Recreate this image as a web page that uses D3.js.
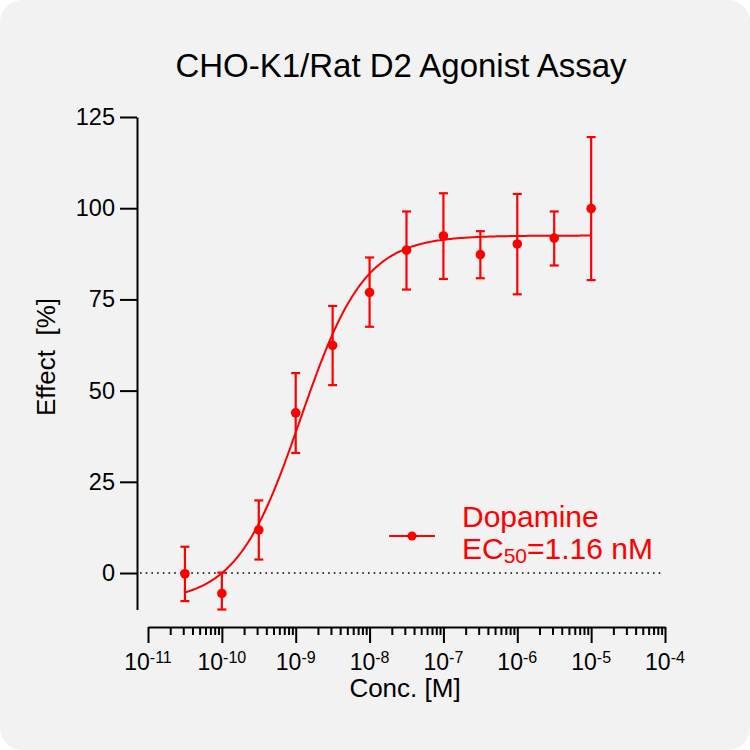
<!DOCTYPE html>
<html>
<head>
<meta charset="utf-8">
<script src="https://cdn.jsdelivr.net/npm/d3@7"></script>
<style>
  body { margin: 0; background: #ffffff; }
  svg text { font-family: "Liberation Sans", Arial, sans-serif; }
</style>
</head>
<body>
<div id="container"></div>
<script>
// data
var logConc = [-10.5, -10, -9.5, -9, -8.5, -8, -7.5, -7, -6.5, -6, -5.5, -5];
var effect = [-0.2, -5.6, 11.8, 43.9, 62.4, 76.9, 88.5, 92.4, 87.3, 90.2, 91.8, 99.9];
var errLow = [-7.7, -10, 3.7, 32.9, 51.5, 67.5, 77.7, 80.6, 80.8, 76.4, 84.3, 80.3];
var errHigh = [7.2, 0.1, 19.9, 54.8, 73.2, 86.5, 99.1, 104.1, 93.7, 103.9, 99.1, 119.5];
var yTicks = [0, 25, 50, 75, 100, 125];
var xDecades = [-11, -10, -9, -8, -7, -6, -5, -4];

// fitted curve parameters
var fitBottom = -8, fitTop = 92.5, fitHill = 1.0, ec50 = 1.16e-9;

var width = 750, height = 750;
var red = '#ff0000';

var svg = d3.select('#container')
    .append('svg')
    .attr('width', width)
    .attr('height', height);

svg.append('rect')
    .attr('width', width)
    .attr('height', height)
    .attr('rx', 22)
    .attr('fill', '#f2f2f2');

var x = d3.scaleLog()
    .domain([1e-11, 1e-4])
    .range([148, 665]);

var y = d3.scaleLinear()
    .domain([-10, 125])
    .range([609.5, 117]);

// title
svg.append('text')
    .attr('x', 401)
    .attr('y', 77)
    .attr('text-anchor', 'middle')
    .style('font-size', '33px')
    .text('CHO-K1/Rat D2 Agonist Assay');

// y axis
var yAxis = svg.append('g')
    .attr('transform', 'translate(137,0)')
    .call(d3.axisLeft(y).tickValues(yTicks).tickSize(17).tickSizeOuter(0).tickPadding(5));
yAxis.selectAll('path, line').attr('stroke', '#000').attr('stroke-width', 2);
yAxis.selectAll('text').style('font-size', '23.5px').attr('fill', '#000');

svg.append('text')
    .attr('transform', 'translate(55,357) rotate(-90)')
    .attr('text-anchor', 'middle')
    .style('font-size', '26px')
    .style('white-space', 'pre')
    .text('Effect  [%]');

// x axis
var majors = xDecades.map(function(d) { return Math.pow(10, d); });
var minors = [];
xDecades.slice(0, -1).forEach(function(d) {
    for (var k = 2; k <= 9; k++) minors.push(k * Math.pow(10, d));
});

var xAxis = svg.append('g')
    .attr('transform', 'translate(0,627)')
    .call(d3.axisBottom(x).tickValues(majors).tickSize(16).tickSizeOuter(0).tickFormat(''));
xAxis.selectAll('path, line').attr('stroke', '#000').attr('stroke-width', 2);

var xMinor = svg.append('g')
    .attr('transform', 'translate(0,627)')
    .call(d3.axisBottom(x).tickValues(minors).tickSize(8).tickFormat(''));
xMinor.select('.domain').remove();
xMinor.selectAll('line').attr('stroke', '#000').attr('stroke-width', 2);

var xLabels = svg.append('g')
    .selectAll('text')
    .data(xDecades)
    .enter()
    .append('text')
    .attr('x', function(d) { return x(Math.pow(10, d)); })
    .attr('y', 670)
    .attr('text-anchor', 'middle')
    .style('font-size', '23px');
xLabels.append('tspan').text('10');
xLabels.append('tspan')
    .attr('dy', -7)
    .style('font-size', '16px')
    .text(function(d) { return String(d); });

svg.append('text')
    .attr('x', 405)
    .attr('y', 697)
    .attr('text-anchor', 'middle')
    .style('font-size', '26px')
    .text('Conc. [M]');

// zero line
svg.append('line')
    .attr('x1', 140)
    .attr('x2', 664)
    .attr('y1', y(0))
    .attr('y2', y(0))
    .attr('stroke', '#000')
    .attr('stroke-width', 1.6)
    .attr('stroke-dasharray', '1.6 4.1');

// fitted curve
var curveX = d3.range(logConc[0], logConc[logConc.length - 1] + 0.001, 0.02);
var curve = d3.line()
    .x(function(d) { return x(Math.pow(10, d)); })
    .y(function(d) {
        var c = Math.pow(10, d);
        return y(fitBottom + (fitTop - fitBottom) / (1 + Math.pow(ec50 / c, fitHill)));
    });

svg.append('path')
    .datum(curveX)
    .attr('d', curve)
    .attr('fill', 'none')
    .attr('stroke', red)
    .attr('stroke-width', 2);

// error bars and points
var pts = svg.append('g')
    .selectAll('g')
    .data(logConc)
    .enter()
    .append('g')
    .attr('transform', function(d) { return 'translate(' + x(Math.pow(10, d)) + ',0)'; });

pts.append('line')
    .attr('y1', function(d, i) { return y(errLow[i]); })
    .attr('y2', function(d, i) { return y(errHigh[i]); })
    .attr('stroke', red)
    .attr('stroke-width', 2.2);
pts.append('line')
    .attr('x1', -4.5).attr('x2', 4.5)
    .attr('y1', function(d, i) { return y(errHigh[i]); })
    .attr('y2', function(d, i) { return y(errHigh[i]); })
    .attr('stroke', red)
    .attr('stroke-width', 2.2);
pts.append('line')
    .attr('x1', -4.5).attr('x2', 4.5)
    .attr('y1', function(d, i) { return y(errLow[i]); })
    .attr('y2', function(d, i) { return y(errLow[i]); })
    .attr('stroke', red)
    .attr('stroke-width', 2.2);
pts.append('circle')
    .attr('cy', function(d, i) { return y(effect[i]); })
    .attr('r', 4.8)
    .attr('fill', red);

// legend
var legend = svg.append('g');
legend.append('line')
    .attr('x1', 389).attr('x2', 435)
    .attr('y1', 536).attr('y2', 536)
    .attr('stroke', red)
    .attr('stroke-width', 2);
legend.append('circle')
    .attr('cx', 412).attr('cy', 536)
    .attr('r', 4.5)
    .attr('fill', red);
legend.append('text')
    .attr('x', 462).attr('y', 527)
    .attr('fill', red)
    .style('font-size', '30px')
    .text('Dopamine');
var ec = legend.append('text')
    .attr('x', 462).attr('y', 559)
    .attr('fill', red)
    .style('font-size', '30px');
ec.append('tspan').text('EC');
ec.append('tspan').attr('dy', 4).style('font-size', '21px').text('50');
ec.append('tspan').attr('dy', -4).text('=1.16 nM');
</script>
</body>
</html>
